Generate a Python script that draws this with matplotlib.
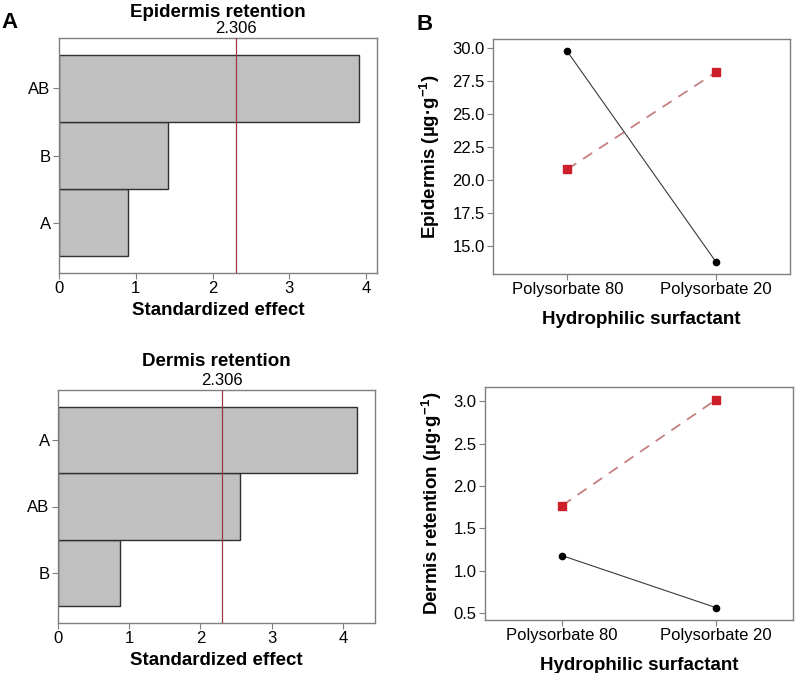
import matplotlib
matplotlib.use('Agg')
import matplotlib.pyplot as plt
import matplotlib.transforms as mtransforms
import numpy as np

plt.rcParams['font.family'] = ['Liberation Sans', 'DejaVu Sans']
plt.rcParams['mathtext.fontset'] = 'custom'
plt.rcParams['mathtext.rm'] = 'Liberation Sans:bold'
plt.rcParams['mathtext.it'] = 'Liberation Sans:bold'
plt.rcParams['mathtext.bf'] = 'Liberation Sans:bold'

# Pareto charts (standardized effects)
epi_terms = ['A', 'B', 'AB']
epi_effects = [0.90, 1.42, 3.90]
derm_terms = ['B', 'AB', 'A']
derm_effects = [0.87, 2.55, 4.20]
t_crit = 2.306

# Interaction plots
surfactants = ['Polysorbate 80', 'Polysorbate 20']
epi_black = [29.77, 13.81]
epi_red = [20.82, 28.18]
derm_black = [1.18, 0.566]
derm_red = [1.77, 3.02]

W, H = 796, 673
fig = plt.figure(figsize=(W / 100, H / 100), dpi=100)


def px_axes(l, t, r, b):
    return fig.add_axes([l / W, 1 - b / H, (r - l) / W, (b - t) / H])


spine_col = '#7f7f7f'
fs_tick = 12
fs_lab = 13.5


def style(ax):
    for s in ax.spines.values():
        s.set_color(spine_col)
        s.set_linewidth(1.0)
    ax.tick_params(direction='out', length=4, width=0.8, color=spine_col,
                   labelsize=fs_tick, pad=2)


def pareto(ax, terms, effects, xmax, title, title_pad):
    y = np.arange(len(terms))
    ax.barh(y, effects, height=1.0, color='#c0c0c0', edgecolor='#303030',
            linewidth=1.0, zorder=2)
    ax.axvline(t_crit, color='#9a3a3a', linewidth=0.9, zorder=3)
    ax.set_yticks(y)
    ax.set_yticklabels(terms)
    ax.set_xticks(np.arange(0, 5, 1))
    ax.set_xlim(0, xmax)
    ax.set_ylim(-0.75, 2.75)
    ax.set_xlabel('Standardized effect', fontsize=fs_lab, fontweight='bold',
                  labelpad=4)
    trans = mtransforms.blended_transform_factory(ax.transData, ax.transAxes)
    ax.text(t_crit, 1.008, '%.3f' % t_crit, transform=trans, ha='center',
            va='bottom', fontsize=fs_tick)
    ax.set_title(title, fontsize=fs_lab, fontweight='bold', pad=title_pad)
    style(ax)


def interaction(ax, black, red, ylim, yticks, ylabel):
    x = np.arange(len(surfactants))
    ax.plot(x, red, color='#c48080', linestyle=(0, (6, 4.5)), linewidth=1.3,
            zorder=2)
    ax.plot(x, red, linestyle='none', marker='s', markersize=5.5,
            color='#cc1f2a', zorder=3)
    ax.plot(x, black, color='#3a3a3a', linewidth=0.8, marker='o',
            markersize=4.5, markerfacecolor='black', markeredgecolor='black',
            zorder=3)
    ax.set_xticks(x)
    ax.set_xticklabels(surfactants)
    ax.set_xlim(-0.5, 1.5)
    ax.set_ylim(*ylim)
    ax.set_yticks(yticks)
    ax.set_yticklabels(['%.1f' % v for v in yticks])
    ax.set_xlabel('Hydrophilic surfactant', fontsize=fs_lab,
                  fontweight='bold', labelpad=10)
    ax.set_ylabel(ylabel, fontsize=fs_lab, fontweight='bold', labelpad=7)
    style(ax)


ax1 = px_axes(59, 38, 377, 273)
pareto(ax1, epi_terms, epi_effects, 4.14, 'Epidermis retention', 15)

ax2 = px_axes(58, 390, 375, 623)
pareto(ax2, derm_terms, derm_effects, 4.45, 'Dermis retention', 17)

ax3 = px_axes(493, 39, 790, 274)
interaction(ax3, epi_black, epi_red, (12.87, 30.71),
            np.arange(15, 30.1, 2.5), r'Epidermis (µg·g$^{-1}$)')

ax4 = px_axes(485, 387, 793, 620)
interaction(ax4, derm_black, derm_red, (0.42, 3.17),
            np.arange(0.5, 3.01, 0.5), r'Dermis retention (µg·g$^{-1}$)')

fig.text(10 / W, 1 - 23 / H, 'A', fontsize=16, fontweight='bold',
         ha='center', va='center')
fig.text(425 / W, 1 - 24 / H, 'B', fontsize=16, fontweight='bold',
         ha='center', va='center')

fig.savefig('out.png', dpi=100)
